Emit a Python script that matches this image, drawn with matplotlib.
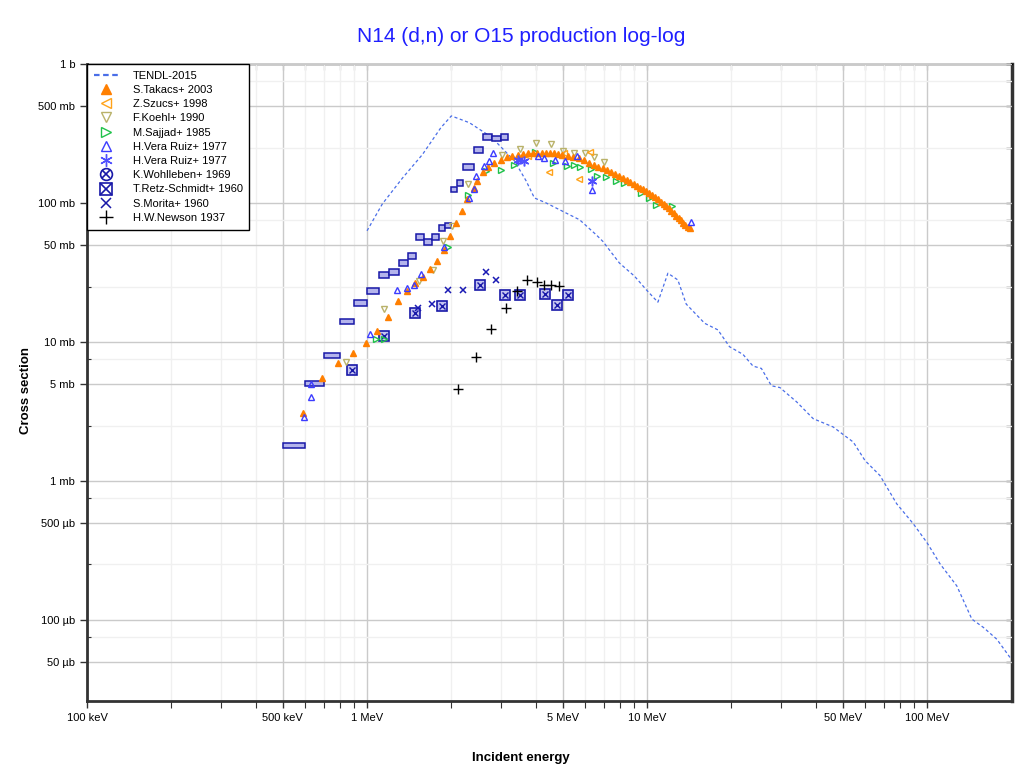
import matplotlib
matplotlib.use('Agg')
from matplotlib import pyplot as plt
from matplotlib.lines import Line2D
from matplotlib.legend_handler import HandlerTuple

plt.rcParams['font.family'] = ['Liberation Sans', 'DejaVu Sans']

# energies in MeV, cross sections in mb
tendl_e = [1.0, 1.134, 1.34, 1.577, 1.835, 2.0, 2.32, 2.73, 2.81, 3.36, 3.70, 3.96, 4.36, 5.28,
           5.74, 6.58, 6.95, 7.97, 9.02, 9.94, 10.93, 11.87, 12.88, 13.8, 16.06, 17.9, 19.7,
           22.0, 23.9, 25.6, 27.8, 29.8, 34.2, 39.2, 46.2, 50.2, 54.5, 60.0, 67.9, 77.9, 89.3,
           99.7, 111.3, 127.7, 144.5, 159.0, 177.5, 198.0]
tendl_xs = [63, 98.3, 151.5, 223, 348, 423, 378, 305, 291, 201, 144, 108.6, 100, 82.3,
            75.7, 59, 52.9, 36.9, 29.7, 23.7, 19.3, 31.2, 27.9, 18.7, 13.6, 12.2, 9.23,
            8.13, 6.69, 6.44, 4.83, 4.69, 3.70, 2.80, 2.44, 2.15, 1.90, 1.40, 1.09, 0.683, 0.49,
            0.361, 0.252, 0.175, 0.101, 0.0879, 0.0723, 0.0533]

takacs_e = [0.592, 0.692, 0.789, 0.891, 0.989, 1.089, 1.186, 1.288, 1.387, 1.481, 1.586, 1.685,
            1.785, 1.886, 1.98, 2.08, 2.18, 2.28, 2.41, 2.48, 2.59,
            2.7, 2.85, 3.0, 3.15, 3.3, 3.45, 3.6, 3.75, 3.9, 4.05, 4.2, 4.35, 4.5, 4.65, 4.8,
            4.95, 5.2, 5.45, 5.7, 5.95, 6.2, 6.45, 6.7, 6.95, 7.2, 7.45, 7.7, 7.95, 8.2, 8.45,
            8.7, 8.95, 9.2, 9.45, 9.7, 9.95, 10.2, 10.45, 10.7, 10.95, 11.2, 11.45, 11.7, 11.95,
            12.2, 12.45, 12.7, 12.95, 13.2, 13.45, 13.7, 13.95, 14.2]
takacs_xs = [3.08, 5.45, 7.08, 8.36, 9.87, 11.97, 15.2, 19.7, 23.3, 26.5, 29.2, 33.4,
             38.4, 46.2, 57.5, 71.7, 88, 107, 128, 143, 167,
             180, 195, 205, 213, 219, 223, 226, 228, 229, 230, 230, 229, 228, 227, 225,
             223, 219, 215, 210, 203, 195, 188, 182, 177, 172, 167, 161, 156, 151, 147,
             142, 137, 133, 129, 125, 121, 118, 114, 110, 106, 102, 98.5, 95, 91.5,
             88, 84.5, 81, 78, 75, 72, 69.5, 67.5, 65.5]

szucs_e = [3.75, 4.48, 5.07, 5.70, 6.23]
szucs_xs = [218, 166.6, 229.6, 149.8, 230.8]

koehl_e = [0.839, 1.147, 1.535, 1.727, 1.875, 2.01, 2.286, 3.03, 3.52, 4.01, 4.54, 5.00,
           5.50, 5.98, 6.49, 7.00]
koehl_xs = [7.11, 17.16, 27.2, 33.0, 52.9, 67.9, 137, 223, 242.7, 271, 263.6, 236.2,
            229.6, 229.6, 213.8, 196.7]

sajjad_e = [1.074, 1.15, 1.938, 2.30, 2.66, 3.01, 3.34, 3.99, 4.60, 5.16, 5.50, 5.77, 6.32,
            6.61, 7.14, 7.72, 8.24, 9.53, 10.15, 10.72, 12.24]
sajjad_xs = [10.47, 10.47, 47.9, 113.6, 169.4, 172.2, 186, 232.3, 194.5, 184, 186, 182, 176.9,
             155.9, 153.3, 143.5, 139.5, 118, 108.7, 96.2, 94.7]

vera_e = [0.594, 0.632, 0.632, 1.027, 1.277, 1.387, 1.476, 1.556, 1.882, 2.32, 2.41, 2.45,
          2.62, 2.73, 2.81, 3.48, 4.07, 4.30, 4.69, 5.11, 5.61, 6.37, 14.31]
vera_xs = [2.86, 4.02, 5.01, 11.33, 23.7, 24.6, 25.7, 30.9, 48.1, 108.7, 126.8, 155.9,
           184, 200, 227, 205.4, 217.4, 211.3, 205.4, 202, 217.4, 123.5, 72.9]

vera2_e = [3.46, 3.65, 6.37]
vera2_xs = [205, 200, 144.9]

# energy bins shown as boxes
wohl_lo = [0.5, 0.6, 0.7, 0.8, 0.9, 1.0, 1.1, 1.2, 1.3, 1.4, 1.5, 1.6, 1.7, 1.8, 1.9, 2.0, 2.1,
           2.2, 2.4, 2.6, 2.8, 3.0]
wohl_hi = [0.6, 0.7, 0.8, 0.9, 1.0, 1.1, 1.2, 1.3, 1.4, 1.5, 1.6, 1.7, 1.8, 1.9, 2.0, 2.1, 2.2,
           2.4, 2.6, 2.8, 3.0, 3.2]
wohl_xs = [1.80, 5.01, 7.99, 14.06, 18.97, 23.15, 30.2, 31.8, 36.9, 41.4, 56.8, 52.3, 56.8,
           66.3, 68.6, 124.7, 139.4, 181, 241, 299.6, 291, 299.6]

retz_e = [0.884, 1.15, 1.48, 1.845, 2.54, 3.10, 3.53, 4.32, 4.76, 5.22]
retz_xs = [6.23, 11.1, 16.1, 18.1, 25.7, 21.7, 21.6, 22.1, 18.3, 21.6]

morita_e = [1.526, 1.704, 1.95, 2.20, 2.66, 2.89]
morita_xs = [17.5, 18.7, 23.5, 23.5, 31.9, 27.7]

newson_e = [2.12, 2.45, 2.78, 3.125, 3.43, 3.715, 4.03, 4.30, 4.55, 4.85]
newson_xs = [4.59, 7.82, 12.37, 17.66, 23.3, 28.1, 26.9, 25.7, 25.7, 25.3]

xtick_vals = [0.1, 0.5, 1, 5, 10, 50, 100]
xtick_labels = ['100 keV', '500 keV', '1 MeV', '5 MeV', '10 MeV', '50 MeV', '100 MeV']
ytick_vals = [1000, 500, 100, 50, 10, 5, 1, 0.5, 0.1, 0.05]
ytick_labels = ['1 b', '500 mb', '100 mb', '50 mb', '10 mb', '5 mb', '1 mb', '500 µb',
                '100 µb', '50 µb']

c_tendl = '#4a6ee8'
c_takacs = '#ff7f00'
c_szucs = '#ffa31a'
c_koehl = '#b9b26a'
c_sajjad = '#1fc24a'
c_vera = '#3c3cff'
c_dark = '#1818a8'

fig = plt.figure(figsize=(10.2, 7.74), dpi=100)
ax = fig.add_axes([87 / 1020, 1 - 701 / 774, 925 / 1020, 637 / 774])
ax.set_xscale('log')
ax.set_yscale('log')
ax.set_xlim(0.1, 201)
ax.set_ylim(0.026, 1000)

xminor = [k * 10.0 ** n for n in (-1, 0, 1, 2) for k in (2, 3, 4, 6, 7, 8, 9) if k * 10.0 ** n < 200]
yminor = [k * 10.0 ** n for n in (-2, -1, 0, 1, 2) for k in (2.5, 7.5) if 0.026 < k * 10.0 ** n < 1000]

ax.set_xticks(xtick_vals, labels=xtick_labels)
ax.set_xticks(xminor, minor=True)
ax.set_yticks(ytick_vals, labels=ytick_labels)
ax.set_yticks(yminor, minor=True)
ax.tick_params(axis='both', which='major', labelsize=8, length=5, width=1, direction='out', color='#333333')
ax.tick_params(axis='x', which='minor', length=5, width=0.8, direction='out', color='#333333')
ax.tick_params(axis='y', which='minor', length=3, width=0.8, direction='in', color='#333333')
ax.grid(which='major', color='#cacaca', lw=1)
ax.grid(which='minor', color='#f0f0f0', lw=1)
ax.set_axisbelow(True)

for s in ['left', 'bottom']:
    ax.spines[s].set_linewidth(2)
    ax.spines[s].set_color('#333333')
ax.spines['right'].set_visible(False)
ax.spines['top'].set_visible(False)

sec_r = ax.secondary_yaxis('right')
sec_r.set_yticks(ytick_vals, labels=[])
sec_r.set_yticks(yminor, minor=True, labels=[])
sec_r.tick_params(which='both', direction='in', length=4, width=1, color='#333333')
sec_r.spines['right'].set_linewidth(2.5)
sec_r.spines['right'].set_color('#333333')

sec_t = ax.secondary_xaxis('top')
sec_t.set_xticks(xtick_vals, labels=[])
sec_t.set_xticks(xminor, minor=True, labels=[])
sec_t.tick_params(which='both', direction='in', length=4, width=0.8, color='black')
sec_t.spines['top'].set_linewidth(1)
sec_t.spines['top'].set_color('black')

# data
ax.plot(tendl_e, tendl_xs, color=c_tendl, lw=0.9, ls=(0, (2.5, 2)), zorder=2)

ax.bar(wohl_lo, [v * (10 ** 0.02 - 10 ** -0.02) for v in wohl_xs],
       width=[h - l for l, h in zip(wohl_lo, wohl_hi)],
       bottom=[v * 10 ** -0.02 for v in wohl_xs], align='edge',
       facecolor='#b4b4ec', edgecolor=c_dark, lw=1.1, zorder=3)

ax.plot(retz_e, retz_xs, 's', ms=6.5, mfc='#c4c4f0', mec=c_dark, mew=1.2, ls='none', zorder=4)
ax.plot(retz_e, retz_xs, 'x', ms=4.5, color=c_dark, mew=1.0, ls='none', zorder=4)
ax.plot(morita_e, morita_xs, 'x', ms=4.5, color='#1a1ab4', mew=1.1, ls='none', zorder=4)
ax.plot(newson_e, newson_xs, '+', ms=7, color='black', mew=1.0, ls='none', zorder=4)
ax.plot(koehl_e, koehl_xs, 'v', ms=4.5, mfc='none', mec=c_koehl, mew=1.0, ls='none', zorder=4)
ax.plot(sajjad_e, sajjad_xs, '>', ms=4.5, mfc='none', mec=c_sajjad, mew=1.0, ls='none', zorder=4)
ax.plot(szucs_e, szucs_xs, '<', ms=4.5, mfc='none', mec=c_szucs, mew=1.0, ls='none', zorder=4)
ax.plot(vera_e, vera_xs, '^', ms=4.5, mfc='none', mec=c_vera, mew=1.0, ls='none', zorder=5)
ax.plot(vera2_e, vera2_xs, marker=(6, 2, 0), ms=7, color='#5050ff', mew=1.1, ls='none', zorder=5)
ax.plot(takacs_e, takacs_xs, '^', ms=4.3, color=c_takacs, mec=c_takacs, ls='none', zorder=4)

# legend
h_tendl = Line2D([], [], color=c_tendl, lw=1.6, ls=(0, (2.5, 1.6)))
h_takacs = Line2D([], [], marker='^', ms=7, color=c_takacs, ls='none')
h_szucs = Line2D([], [], marker='<', ms=7, mfc='none', mec=c_szucs, mew=1.0, ls='none')
h_koehl = Line2D([], [], marker='v', ms=7, mfc='none', mec=c_koehl, mew=1.0, ls='none')
h_sajjad = Line2D([], [], marker='>', ms=7, mfc='none', mec=c_sajjad, mew=1.0, ls='none')
h_vera = Line2D([], [], marker='^', ms=7, mfc='none', mec=c_vera, mew=1.0, ls='none')
h_vera2 = Line2D([], [], marker=(6, 2, 0), ms=9, color='#5050ff', mew=1.0, ls='none')
h_wohl = (Line2D([], [], marker='o', ms=8.5, mfc='none', mec=c_dark, mew=1.2, ls='none'),
          Line2D([], [], marker='x', ms=6, color=c_dark, mew=1.2, ls='none'))
h_retz = (Line2D([], [], marker='s', ms=8.5, mfc='none', mec=c_dark, mew=1.2, ls='none'),
          Line2D([], [], marker='x', ms=8.5, color=c_dark, mew=1.2, ls='none'))
h_morita = Line2D([], [], marker='x', ms=7, color=c_dark, mew=1.1, ls='none')
h_newson = Line2D([], [], marker='+', ms=10, color='black', mew=1.0, ls='none')

handles = [h_tendl, h_takacs, h_szucs, h_koehl, h_sajjad, h_vera, h_vera2, h_wohl, h_retz,
           h_morita, h_newson]
labels = ['TENDL-2015', 'S.Takacs+ 2003', 'Z.Szucs+ 1998', 'F.Koehl+ 1990', 'M.Sajjad+ 1985',
          'H.Vera Ruiz+ 1977', 'H.Vera Ruiz+ 1977', 'K.Wohlleben+ 1969', 'T.Retz-Schmidt+ 1960',
          'S.Morita+ 1960', 'H.W.Newson 1937']
leg = ax.legend(handles, labels, loc='upper left', bbox_to_anchor=(0, 1), borderaxespad=0,
                fontsize=8, frameon=True, fancybox=False, edgecolor='black', framealpha=1,
                handlelength=2.3, handletextpad=1.2, labelspacing=0.38, borderpad=0.6,
                handler_map={tuple: HandlerTuple(ndivide=1)})
leg.get_frame().set_linewidth(1)
leg.set_zorder(10)

fig.text(521 / 1020, 1 - 36 / 774, 'N14 (d,n) or O15 production log-log', color='#1f1fff',
         fontsize=15, ha='center', va='center')
fig.text(521 / 1020, 1 - 758 / 774, 'Incident energy', fontsize=9.5, fontweight='bold',
         ha='center', va='center')
fig.text(26 / 1020, 1 - 390 / 774, 'Cross section', fontsize=9.5, fontweight='bold',
         rotation=90, ha='center', va='center')

plt.savefig('out.png', dpi=100)
plt.close()
